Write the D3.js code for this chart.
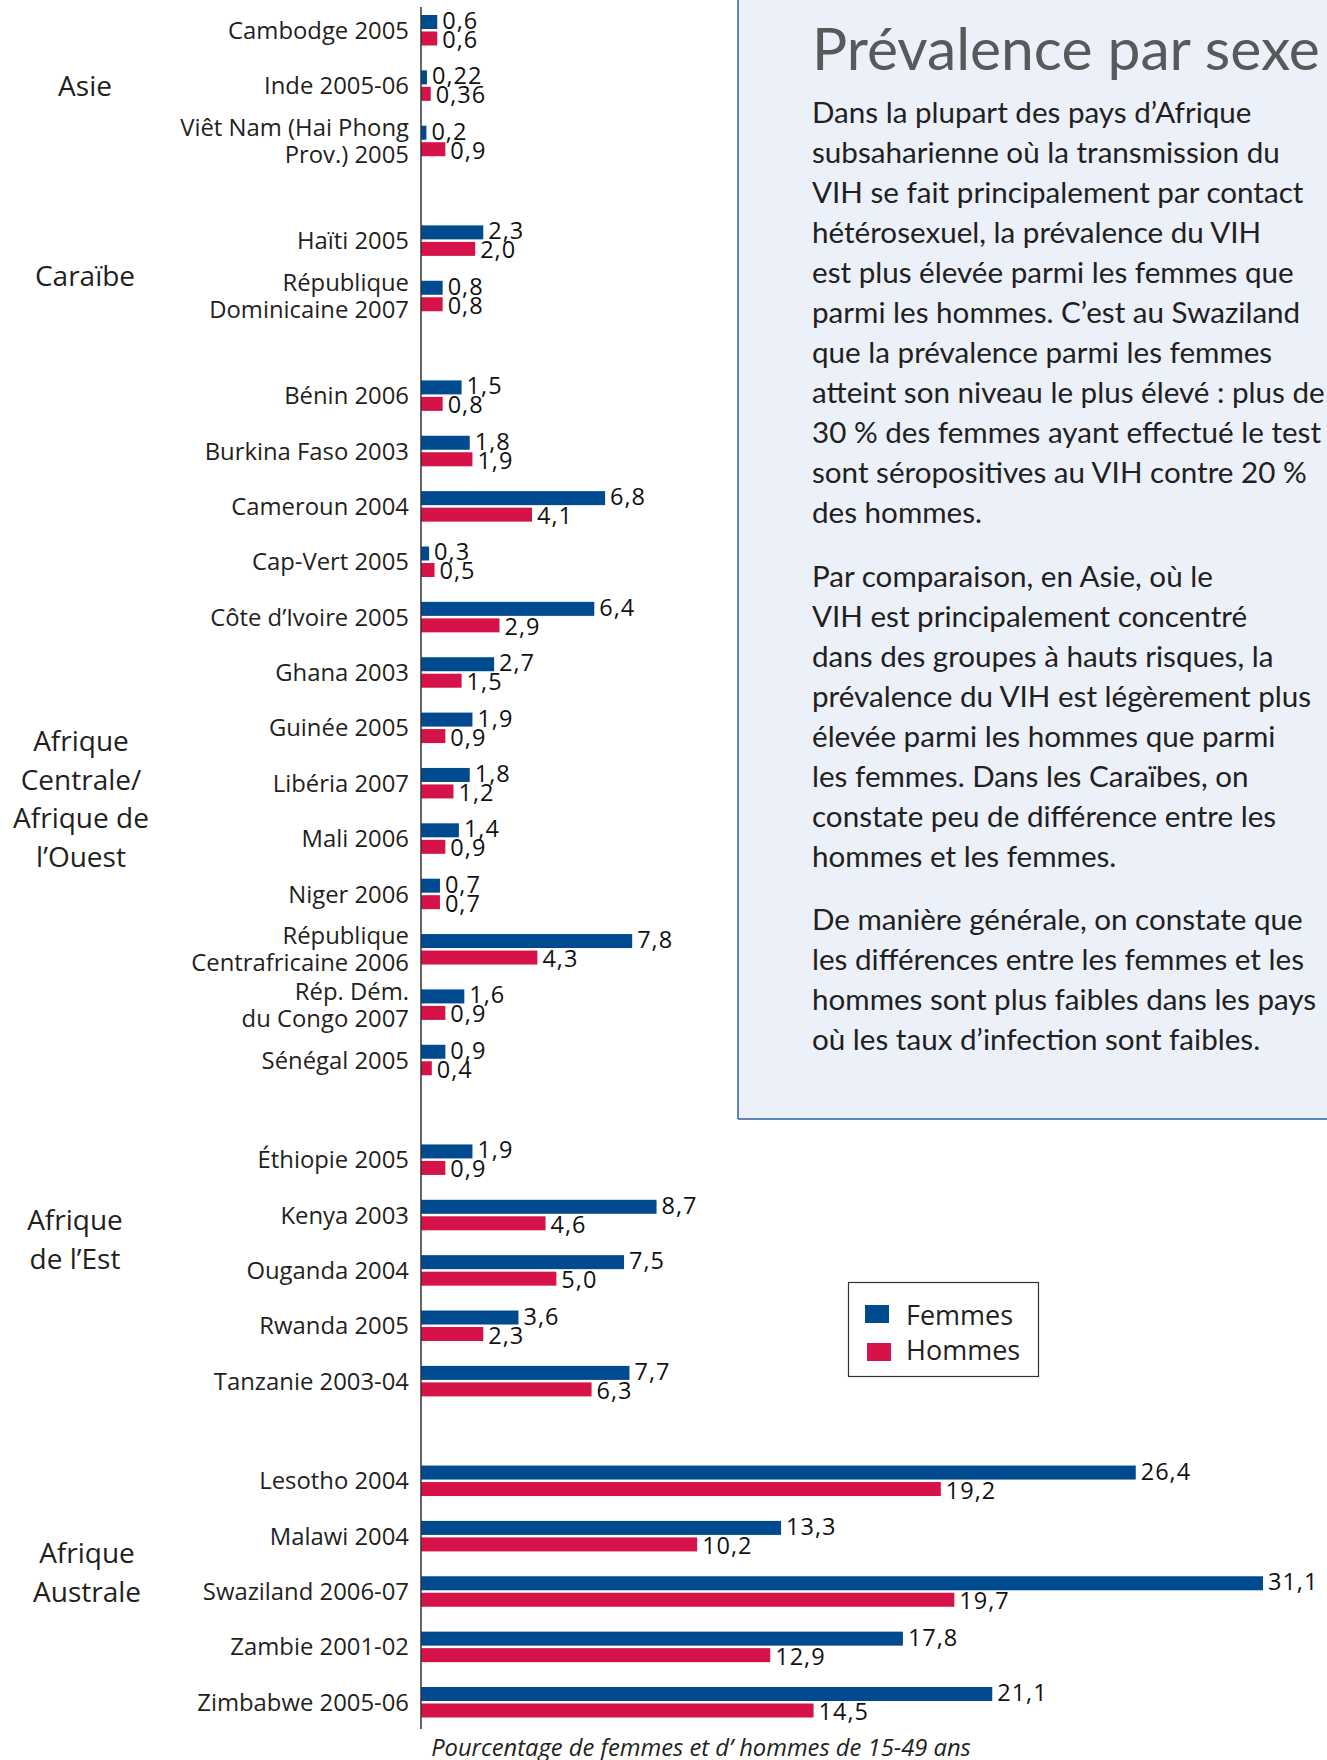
<!DOCTYPE html>
<html>
<head>
<meta charset="utf-8">
<script src="https://cdn.jsdelivr.net/npm/d3@7"></script>
<style>
  body { margin: 0; background: #fff; }
  svg { display: block; }
</style>
</head>
<body>
<div id="chart"></div>
<script>
// Prévalence du VIH par sexe - barres horizontales groupées par région

const regionLines = [
  ["Asie"],
  ["Caraïbe"],
  ["Afrique", "Centrale/", "Afrique de", "l’Ouest"],
  ["Afrique", "de l’Est"],
  ["Afrique", "Australe"]
];

const countryLabels = [
  ["Cambodge 2005"], ["Inde 2005-06"], ["Viêt Nam (Hai Phong", "Prov.) 2005"],
  ["Haïti 2005"], ["République", "Dominicaine 2007"],
  ["Bénin 2006"], ["Burkina Faso 2003"], ["Cameroun 2004"], ["Cap-Vert 2005"],
  ["Côte d’Ivoire 2005"], ["Ghana 2003"], ["Guinée 2005"], ["Libéria 2007"],
  ["Mali 2006"], ["Niger 2006"], ["République", "Centrafricaine 2006"],
  ["Rép. Dém.", "du Congo 2007"], ["Sénégal 2005"],
  ["Éthiopie 2005"], ["Kenya 2003"], ["Ouganda 2004"], ["Rwanda 2005"], ["Tanzanie 2003-04"],
  ["Lesotho 2004"], ["Malawi 2004"], ["Swaziland 2006-07"], ["Zambie 2001-02"], ["Zimbabwe 2005-06"]
];

const countryRegion = [0, 0, 0, 1, 1, 2, 2, 2, 2, 2, 2, 2, 2, 2, 2, 2, 2, 2, 3, 3, 3, 3, 3, 4, 4, 4, 4, 4];

const femmes = [0.6, 0.22, 0.2, 2.3, 0.8, 1.5, 1.8, 6.8, 0.3, 6.4, 2.7, 1.9, 1.8, 1.4, 0.7, 7.8, 1.6, 0.9,
                1.9, 8.7, 7.5, 3.6, 7.7, 26.4, 13.3, 31.1, 17.8, 21.1];
const hommes = [0.6, 0.36, 0.9, 2.0, 0.8, 0.8, 1.9, 4.1, 0.5, 2.9, 1.5, 0.9, 1.2, 0.9, 0.7, 4.3, 0.9, 0.4,
                0.9, 4.6, 5.0, 2.3, 6.3, 19.2, 10.2, 19.7, 12.9, 14.5];

const seriesNames = ["Femmes", "Hommes"];
const seriesColors = ["#004a90", "#d51349"];

const axisTitle = "Pourcentage de femmes et d’ hommes de 15-49 ans";
const panelTitle = "Prévalence par sexe";
const paragraphs = [
  ["Dans la plupart des pays d’Afrique",
   "subsaharienne où la transmission du",
   "VIH se fait principalement par contact",
   "hétérosexuel, la prévalence du VIH",
   "est plus élevée parmi les femmes que",
   "parmi les hommes. C’est au Swaziland",
   "que la prévalence parmi les femmes",
   "atteint son niveau le plus élevé : plus de",
   "30 % des femmes ayant effectué le test",
   "sont séropositives au VIH contre 20 %",
   "des hommes."],
  ["Par comparaison, en Asie, où le",
   "VIH est principalement concentré",
   "dans des groupes à hauts risques, la",
   "prévalence du VIH est légèrement plus",
   "élevée parmi les hommes que parmi",
   "les femmes. Dans les Caraïbes, on",
   "constate peu de différence entre les",
   "hommes et les femmes."],
  ["De manière générale, on constate que",
   "les différences entre les femmes et les",
   "hommes sont plus faibles dans les pays",
   "où les taux d’infection sont faibles."]
];

// Layout
const W = 1327, H = 1760;
const axisX = 421;
const barH = 14, redOffset = 16.5;
const gapRatio = 0.8;
const chartFont = "'Open Sans', 'Noto Sans', sans-serif";
const panelFont = "Lato, 'Open Sans', sans-serif";
const textColor = "#231f20";
const regionX = [85, 85, 81, 75, 87];
const regionDy = [0, 8, 71, -31, -19];

const svg = d3.select("#chart").append("svg")
  .attr("width", W)
  .attr("height", H)
  .attr("viewBox", `0 0 ${W} ${H}`);

svg.append("rect").attr("width", W).attr("height", H).attr("fill", "#fff");

// font fitting helper: returns a font size so that str measures target px
function fitFont(str, family, baseSize, target, extra) {
  const t = svg.append("text")
    .attr("font-family", family)
    .attr("font-size", baseSize)
    .attr("font-style", extra || "normal")
    .text(str);
  const w = t.node().getComputedTextLength();
  t.remove();
  return baseSize * target / w;
}

// ---- Side panel ----
const panelX = 738, panelBottom = 1119;
svg.append("rect")
  .attr("x", panelX).attr("y", -2)
  .attr("width", W - panelX + 2).attr("height", panelBottom + 2)
  .attr("fill", "#ebf0f9");
svg.append("line")
  .attr("x1", panelX).attr("x2", panelX).attr("y1", 0).attr("y2", panelBottom)
  .attr("stroke", "#2d5fa6").attr("stroke-width", 1.5);
svg.append("line")
  .attr("x1", panelX).attr("x2", W).attr("y1", panelBottom).attr("y2", panelBottom)
  .attr("stroke", "#2d5fa6").attr("stroke-width", 1.5);

const titleSize = fitFont(panelTitle, panelFont, 60, 508);
svg.append("text")
  .attr("x", 812).attr("y", 70)
  .attr("font-family", panelFont)
  .attr("font-size", titleSize)
  .attr("fill", "#58595b")
  .text(panelTitle);

const bodySize = fitFont("subsaharienne où la transmission du", panelFont, 27, 468);
let baseY = 123;
paragraphs.forEach((para) => {
  para.forEach((line, i) => {
    svg.append("text")
      .attr("x", 812).attr("y", baseY + i * 40)
      .attr("font-family", panelFont)
      .attr("font-size", bodySize)
      .attr("fill", textColor)
      .text(line);
  });
  baseY += (para.length - 1) * 40 + 63.7;
});

// ---- Chart ----
const rows = countryLabels.map((lab, i) => ({
  lines: lab,
  region: countryRegion[i],
  f: femmes[i],
  h: hommes[i],
  slot: i + countryRegion[i] * gapRatio
}));

const x = d3.scaleLinear()
  .domain([0, d3.max(femmes)])
  .range([axisX, 1263]);

const y = d3.scaleLinear()
  .domain([0, rows[rows.length - 1].slot])
  .range([15, 1687]);

const fmt = v => (Math.round(v * 100) % 10 !== 0 ? v.toFixed(2) : v.toFixed(1)).replace(".", ",");

const labelSize = fitFont("Cambodge 2005", chartFont, 24, 181);
const valueSize = 23.5;

const g = svg.append("g");

rows.forEach((d) => {
  const top = y(d.slot);
  const mid = top + (redOffset + barH) / 2;

  g.append("rect")
    .attr("x", x(0)).attr("y", top)
    .attr("width", x(d.f) - x(0)).attr("height", barH)
    .attr("fill", seriesColors[0]);
  g.append("rect")
    .attr("x", x(0)).attr("y", top + redOffset)
    .attr("width", x(d.h) - x(0)).attr("height", barH)
    .attr("fill", seriesColors[1]);

  g.append("text")
    .attr("x", x(d.f) + 5).attr("y", top + barH)
    .attr("font-family", chartFont).attr("font-size", valueSize)
    .attr("letter-spacing", 1)
    .attr("fill", "#111")
    .text(fmt(d.f));
  g.append("text")
    .attr("x", x(d.h) + 5).attr("y", top + redOffset + barH + 2.5)
    .attr("font-family", chartFont).attr("font-size", valueSize)
    .attr("letter-spacing", 1)
    .attr("fill", "#111")
    .text(fmt(d.h));

  const n = d.lines.length;
  d.lines.forEach((line, k) => {
    const cy = mid + (k - (n - 1) / 2) * 27;
    g.append("text")
      .attr("x", 409).attr("y", cy + labelSize * 0.36)
      .attr("text-anchor", "end")
      .attr("font-family", chartFont).attr("font-size", labelSize)
      .attr("fill", textColor)
      .text(line);
  });
});

// region labels
regionLines.forEach((lines, r) => {
  const members = rows.filter(d => d.region === r);
  const c0 = y(members[0].slot), c1 = y(members[members.length - 1].slot);
  const center = (c0 + c1) / 2 + (redOffset + barH) / 2 + regionDy[r];
  lines.forEach((line, k) => {
    const cy = center + (k - (lines.length - 1) / 2) * 38.5;
    svg.append("text")
      .attr("x", regionX[r]).attr("y", cy + 28 * 0.36)
      .attr("text-anchor", "middle")
      .attr("font-family", chartFont).attr("font-size", 28)
      .attr("fill", textColor)
      .text(line);
  });
});

// vertical axis line
svg.append("line")
  .attr("x1", axisX).attr("x2", axisX)
  .attr("y1", 7).attr("y2", 1729)
  .attr("stroke", "#333").attr("stroke-width", 1.5);

// axis title
const axisSize = fitFont(axisTitle, chartFont, 24, 540, "italic");
svg.append("text")
  .attr("x", 701).attr("y", 1756)
  .attr("text-anchor", "middle")
  .attr("font-family", chartFont).attr("font-size", axisSize)
  .attr("font-style", "italic")
  .attr("fill", textColor)
  .text(axisTitle);

// legend
const legend = svg.append("g");
legend.append("rect")
  .attr("x", 848.5).attr("y", 1282.5).attr("width", 190).attr("height", 94)
  .attr("fill", "#fff").attr("stroke", "#333").attr("stroke-width", 1.2);
seriesNames.forEach((name, i) => {
  legend.append("rect")
    .attr("x", 865 + i * 2).attr("y", 1305 + i * 38)
    .attr("width", 24).attr("height", 18)
    .attr("fill", seriesColors[i]);
  legend.append("text")
    .attr("x", 906).attr("y", 1325 + i * 35)
    .attr("font-family", chartFont).attr("font-size", 27)
    .attr("fill", textColor)
    .text(name);
});
</script>
</body>
</html>
